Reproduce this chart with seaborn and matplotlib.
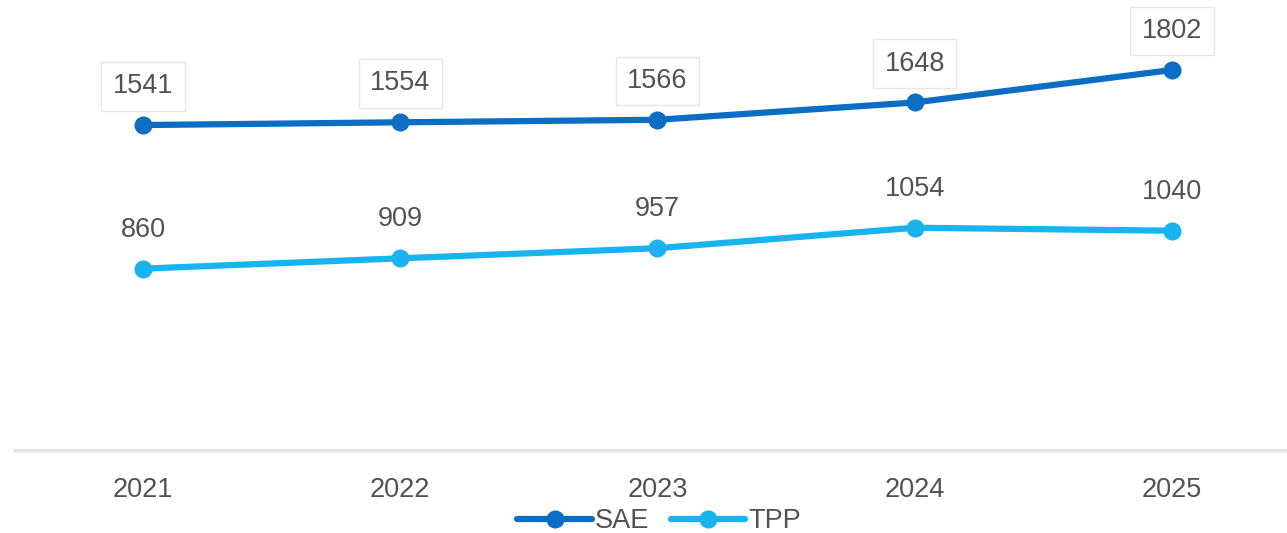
import matplotlib
matplotlib.use("Agg")
import matplotlib.pyplot as plt
import seaborn as sns
import pandas as pd
from matplotlib.lines import Line2D

# Yearly values for the two series
years = ["2021", "2022", "2023", "2024", "2025"]
sae = [1541, 1554, 1566, 1648, 1802]
tpp = [860, 909, 957, 1054, 1040]
series_names = ["SAE", "TPP"]
colors = {"SAE": "#0B6DC3", "TPP": "#19B3EF"}

df = pd.DataFrame({
    "year": years * 2,
    "value": sae + tpp,
    "series": ["SAE"] * len(years) + ["TPP"] * len(years),
})
df["x"] = list(range(len(years))) * 2

sns.set_theme(style="white")
plt.rcParams["font.family"] = ["Liberation Sans", "DejaVu Sans"]
text_color = "#525252"

fig = plt.figure(figsize=(12.87, 5.33), dpi=100)
ax = fig.add_axes([14.4 / 1287, 83 / 533, 1286.2 / 1287, 450 / 533])

sns.lineplot(data=df, x="x", y="value", hue="series", hue_order=series_names,
             palette=colors, linewidth=4.5, marker="o", markersize=13,
             markeredgewidth=0, legend=False, ax=ax, zorder=3)

ax.set_xlim(-0.5, 4.5)
ax.set_ylim(0, 2134)
ax.set_yticks([])
ax.set_xticks([])
for s in ax.spines.values():
    s.set_visible(False)
ax.set_xlabel("")
ax.set_ylabel("")

# baseline
ax.axhline(0, color="#E3E3E3", linewidth=2.2, clip_on=False, zorder=1)
ax.axhline(-10, color="#F4F4F4", linewidth=1.0, clip_on=False, zorder=1)

# year labels beneath the baseline
for i, yr in enumerate(years):
    ax.annotate(yr, (i, 0), xytext=(0, -28.8), textcoords="offset points",
                ha="center", va="center", fontsize=19.5, color=text_color,
                annotation_clip=False)

# value labels
for i, v in enumerate(sae):
    ax.annotate(str(v), (i, v), xytext=(0, 28), textcoords="offset points",
                ha="center", va="center", fontsize=19.5, color=text_color,
                bbox=dict(boxstyle="square,pad=0.42", fc="white",
                          ec="#E6E6E6", lw=1.0), zorder=4)
for i, v in enumerate(tpp):
    ax.annotate(str(v), (i, v), xytext=(0, 28), textcoords="offset points",
                ha="center", va="center", fontsize=19.5, color=text_color,
                zorder=4)

handles = [Line2D([0], [0], color=colors[n], lw=4.5, marker="o", markersize=13,
                  markeredgewidth=0) for n in series_names]
fig.legend(handles, series_names, loc="center",
           bbox_to_anchor=(659 / 1287, 1 - 521 / 533),
           ncol=2, frameon=False, fontsize=19.5, handlelength=2.75,
           handletextpad=0.1, columnspacing=0.8, labelcolor=text_color,
           borderpad=0.0)

fig.savefig("out.png", dpi=100)
